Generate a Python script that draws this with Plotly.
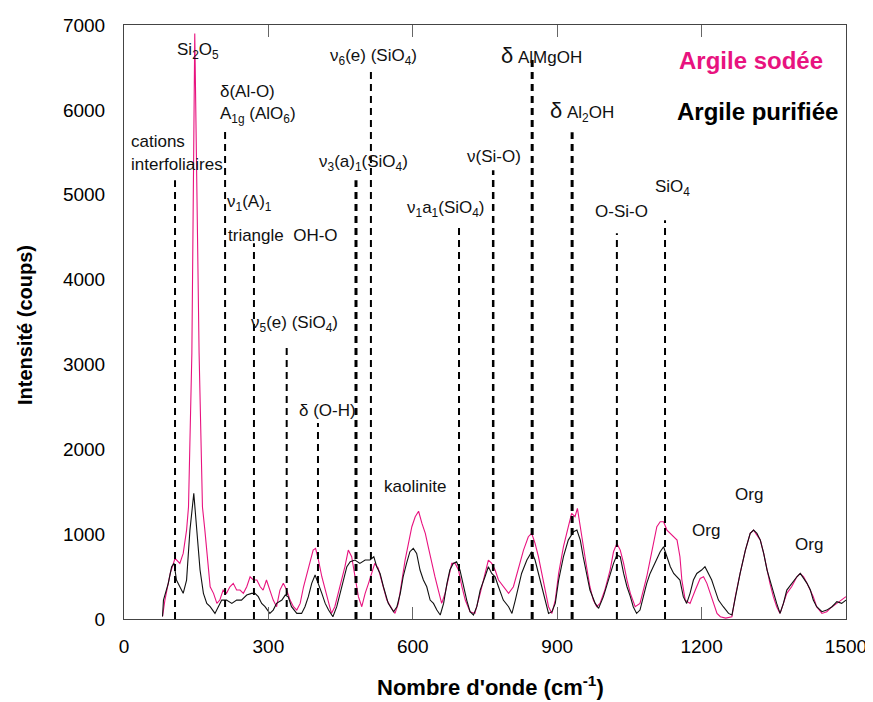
import plotly.graph_objects as go

# ---------------- data ----------------
wn_sodee = [80, 85, 96, 106, 116, 123, 130, 134, 141, 147, 156, 163, 168, 175, 179, 186, 193, 199,
            206, 213, 220, 227, 234, 241, 248, 255, 262, 269, 276, 283, 289, 296, 303, 310, 317, 324,
            331, 338, 345, 352, 359, 366, 373, 380, 386, 393, 398, 404, 411, 418, 425, 431, 438, 445,
            452, 459, 466, 473, 480, 487, 494, 501, 508, 515, 521, 528, 539, 546, 556, 563, 570, 577,
            584, 591, 598, 605, 612, 619, 626, 632, 639, 646, 653, 660, 667, 674, 681, 688, 695, 702,
            709, 719, 729, 740, 750, 757, 764, 771, 778, 788, 799, 809, 819, 830, 840, 847, 854, 861,
            868, 875, 882, 889, 896, 903, 913, 923, 930, 937, 942, 948, 954, 961, 968, 975, 982, 989,
            999, 1010, 1017, 1024, 1031, 1038, 1045, 1052, 1062, 1072, 1079, 1086, 1093, 1100, 1107,
            1114, 1121, 1128, 1135, 1142, 1149, 1155, 1159, 1166, 1176, 1187, 1197, 1204, 1211, 1218,
            1225, 1232, 1239, 1250, 1263, 1270, 1280, 1291, 1301, 1308, 1315, 1322, 1329, 1336, 1342,
            1349, 1356, 1363, 1370, 1377, 1387, 1398, 1405, 1412, 1419, 1426, 1432, 1439, 1450, 1460,
            1471, 1481, 1491, 1500]
int_sodee = [30, 223, 537, 714, 655, 773, 1048, 1320, 3135, 6900, 3135, 1320, 1048, 616, 380, 302, 184, 223,
             341, 302, 380, 420, 341, 341, 302, 380, 498, 459, 459, 380, 341, 459, 341, 223, 145, 341,
             420, 341, 223, 145, 105, 184, 380, 537, 655, 812, 832, 695, 498, 341, 184, 66, 145, 302,
             459, 616, 812, 734, 498, 263, 145, 302, 420, 537, 655, 600, 360, 223, 125, 66, 184, 459,
             695, 891, 1087, 1205, 1270, 1126, 1009, 852, 655, 498, 341, 184, 302, 498, 655, 655, 577, 380,
             223, 86, 66, 302, 537, 695, 655, 577, 459, 380, 302, 380, 577, 812, 970, 1009, 891, 734,
             537, 341, 145, 66, 223, 537, 852, 1087, 1244, 1205, 1303, 1087, 852, 616, 380, 223, 145, 184,
             341, 580, 793, 891, 812, 655, 459, 302, 145, 184, 341, 498, 695, 891, 1087,
             1146, 1146, 1048, 1009, 970, 930, 734, 459, 223, 184, 341, 478, 498, 420, 302,
             184, 66, 27, 10, 27, 263, 537, 812, 1009, 1048, 989, 930, 773, 577, 420,
             263, 145, 66, 184, 302, 380, 498, 537, 498, 420, 341, 263, 145, 66, 86,
             145, 184, 223, 263]

wn_purifiee = [80, 82, 92, 99, 104, 109, 116, 123, 130, 137, 145, 151, 158, 165, 172, 179, 189, 196, 203,
               213, 224, 234, 244, 255, 265, 272, 279, 286, 293, 303, 310, 317, 328, 335, 341, 348, 359,
               369, 376, 383, 390, 397, 404, 411, 418, 425, 434, 442, 449, 456, 463, 470, 480, 490, 501,
               511, 519, 525, 532, 539, 549, 560, 567, 574, 580, 587, 594, 601, 608, 615, 622, 629, 636,
               643, 650, 657, 664, 671, 677, 684, 691, 698, 705, 712, 719, 726, 733, 740, 750, 757, 764,
               771, 778, 788, 799, 806, 813, 819, 826, 837, 847, 854, 861, 868, 875, 882, 889, 896, 903,
               913, 923, 934, 941, 948, 954, 961, 968, 979, 986, 996, 1006, 1017, 1024, 1031, 1038, 1045,
               1052, 1058, 1065, 1072, 1079, 1086, 1093, 1100, 1107, 1114, 1121, 1128, 1135, 1142, 1149,
               1155, 1162, 1169, 1176, 1183, 1190, 1200, 1207, 1214, 1221, 1228, 1235, 1245, 1256, 1263,
               1270, 1280, 1291, 1301, 1308, 1315, 1322, 1329, 1336, 1342, 1349, 1356, 1363, 1370, 1377,
               1387, 1398, 1405, 1412, 1419, 1426, 1432, 1439, 1450, 1460, 1471, 1481, 1491, 1500]
int_purifiee = [30, 223, 420, 616, 655, 459, 380, 302, 459, 1048, 1480, 1048, 577, 302, 184, 145, 66, 145, 223,
                223, 184, 223, 223, 282, 302, 302, 263, 184, 145, 66, 105, 184, 223, 282, 263, 145, 66,
                66, 145, 263, 420, 518, 420, 302, 184, 105, 27, 145, 302, 459, 616, 675, 695, 655, 695,
                695, 734, 616, 537, 380, 184, 86, 145, 302, 498, 655, 793, 832, 773, 577, 459, 380, 223,
                184, 105, 47, 184, 420, 577, 655, 675, 577, 380, 223, 86, 47, 145, 341, 498, 616, 537,
                498, 380, 223, 145, 66, 223, 380, 537, 695, 793, 695, 537, 380, 223, 66, 86, 184, 459,
                734, 930, 1028, 1048, 930, 734, 537, 341, 184, 125, 263, 459, 655, 754, 734, 537, 380,
                263, 145, 66, 105, 263, 420, 537, 616, 695, 793, 852, 734, 616, 537, 498,
                459, 263, 184, 302, 459, 537, 577, 616, 537, 459, 341, 223, 145, 66, 47,
                263, 537, 812, 1009, 1048, 1009, 930, 773, 577, 459, 302, 184, 66, 184, 341,
                420, 498, 537, 478, 420, 341, 223, 145, 86, 105, 145, 204, 184, 223]

# band assignment markers (dashed lines): position and top
band_x = [106, 210, 270, 338, 403, 482, 513, 696, 767, 848, 931, 1024, 1124]
band_top = [5171, 5784, 4429, 3228, 2309, 5171, 6503, 4618, 5289, 6620, 5737, 4547, 4700]
band_w = [2, 2, 2, 2, 2, 3, 2, 2, 2.5, 3, 3, 2, 2]

# labels: (x, y, text)
label_x = [106, 424, 195, 195, 10, 10, 401, 210, 212, 260, 360, 584, 779, 881, 709, 1099, 975,
           536, 1176, 1266, 1390]
label_y = [6695, 6624, 6212, 5937, 5623, 5360, 5372, 4900, 4524, 3475, 2462, 4830, 6644, 5976, 5446,
           5077, 4798, 1558, 1043, 1467, 878]
label_text = [
    "Si<sub>2</sub>O<sub>5</sub>",
    "ν<sub>6</sub>(e) (SiO<sub>4</sub>)",
    "δ(Al-O)",
    "A<sub>1g</sub> (AlO<sub>6</sub>)",
    "cations",
    "interfoliaires",
    "ν<sub>3</sub>(a)<sub>1</sub>(SiO<sub>4</sub>)",
    "ν<sub>1</sub>(A)<sub>1</sub>",
    "triangle  OH-O",
    "ν<sub>5</sub>(e) (SiO<sub>4</sub>)",
    "δ (O-H)",
    "ν<sub>1</sub>a<sub>1</sub>(SiO<sub>4</sub>)",
    "<span style='font-size:22px'>δ</span> AlMgOH",
    "<span style='font-size:22px'>δ</span> Al<sub>2</sub>OH",
    "ν(Si-O)",
    "SiO<sub>4</sub>",
    "O-Si-O",
    "kaolinite",
    "Org",
    "Org",
    "Org",
]

x_ticks = [0, 300, 600, 900, 1200, 1500]
y_ticks = [0, 1000, 2000, 3000, 4000, 5000, 6000, 7000]

series_names = ["Argile sodée", "Argile purifiée"]
MAGENTA = "#E8137F"
FONT = "Liberation Sans, Arial, sans-serif"

fig = go.Figure()
fig.add_trace(go.Scatter(x=wn_sodee, y=int_sodee, mode="lines", name=series_names[0],
                         line=dict(color=MAGENTA, width=1.1), showlegend=False))
fig.add_trace(go.Scatter(x=wn_purifiee, y=int_purifiee, mode="lines", name=series_names[1],
                         line=dict(color="#111111", width=1.1), showlegend=False))

for bx, bt, bw in zip(band_x, band_top, band_w):
    fig.add_shape(type="line", xref="x", yref="y", x0=bx, x1=bx, y0=0, y1=bt,
                  line=dict(color="black", width=bw, dash="7px,5px"), layer="above")

for lx, ly, lt in zip(label_x, label_y, label_text):
    fig.add_annotation(x=lx, y=ly, xref="x", yref="y", text=lt, showarrow=False,
                       xanchor="left", yanchor="middle",
                       font=dict(family=FONT, size=17, color="#111111"))

# legend-like labels
fig.add_annotation(x=1303, y=6585, xref="x", yref="y", text="<b>" + series_names[0] + "</b>",
                   showarrow=False, xanchor="center", yanchor="middle",
                   font=dict(family=FONT, size=24, color=MAGENTA))
fig.add_annotation(x=1317, y=5976, xref="x", yref="y", text="<b>" + series_names[1] + "</b>",
                   showarrow=False, xanchor="center", yanchor="middle",
                   font=dict(family=FONT, size=24, color="black"))

# axis titles (placed in paper space)
fig.add_annotation(x=-0.137, y=0.495, xref="paper", yref="paper", textangle=-90,
                   text="<b>Intensité (coups)</b>", showarrow=False,
                   xanchor="center", yanchor="middle",
                   font=dict(family=FONT, size=20, color="black"))
fig.add_annotation(x=0.507, y=-0.112, xref="paper", yref="paper",
                   text="<b>Nombre d'onde (cm<sup>-1</sup>)</b>", showarrow=False,
                   xanchor="center", yanchor="middle",
                   font=dict(family=FONT, size=22, color="black"))

fig.update_layout(
    width=873, height=702,
    margin=dict(l=116, r=35, t=17, b=91),
    paper_bgcolor="white", plot_bgcolor="white",
    font=dict(family=FONT, color="black"),
    showlegend=False,
)
fig.update_xaxes(range=[0, 1500], tickvals=x_ticks, ticktext=[str(v) for v in x_ticks],
                 ticks="inside", ticklen=12, tickcolor="#666666", tickwidth=1,
                 showline=True, linecolor="#444444", linewidth=1, mirror="ticks",
                 showgrid=False, zeroline=False, automargin=False, ticklabelstandoff=10,
                 tickfont=dict(family=FONT, size=19, color="black"))
fig.update_yaxes(range=[0, 7000], tickvals=y_ticks, ticktext=[str(v) for v in y_ticks],
                 ticks="", showline=True, linecolor="#444444", linewidth=1, mirror=True,
                 showgrid=False, zeroline=False, automargin=False, ticklabelstandoff=14,
                 tickfont=dict(family=FONT, size=19, color="black"))

fig.write_html("out.html")
